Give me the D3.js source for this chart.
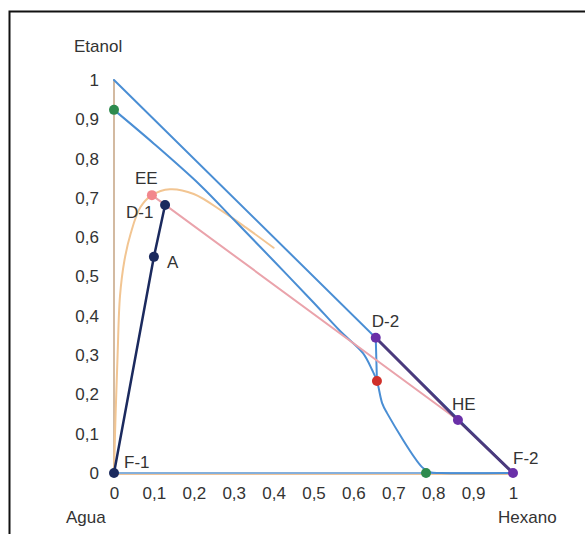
<!DOCTYPE html>
<meta charset="utf-8">
<style>
    body { margin: 0; background: #fff; }
    text { font-family: Arial, "Liberation Sans", sans-serif; fill: #333; }
    .tick text { font-size: 17px; fill: #333; }
    path.line { fill: none; stroke-linejoin: round; stroke-linecap: round; }
</style>
<body>
<script src="https://cdn.jsdelivr.net/npm/d3@7"></script>
<script>

    // ticks (same for both axes)
    var ticks = [0, 0.1, 0.2, 0.3, 0.4, 0.5, 0.6, 0.7, 0.8, 0.9, 1];

    // triangle sides
    var hypotenuse = [[0, 1], [1, 0]];
    var waterAxis = [[0, 0], [0, 1]];
    var baseAxis = [[0, 0], [1, 0]];

    // lower blue curve
    var blueCurve = [[0, 0.924], [0.1, 0.838], [0.2155, 0.733], [0.3, 0.645], [0.4, 0.54],
                     [0.5, 0.434], [0.566, 0.362], [0.624, 0.305], [0.647, 0.262], [0.659, 0.234],
                     [0.672, 0.178], [0.684, 0.153], [0.772, 0.015], [0.792, 0.002], [0.82, 0], [1, 0]];
    var blueTie = [[0.656, 0.344], [0.659, 0.234]];

    // orange curve
    var orangeCurve = [[0, 0], [0.004, 0.15], [0.009, 0.3], [0.015, 0.45], [0.026, 0.54], [0.042, 0.61],
                       [0.066, 0.676], [0.095, 0.707], [0.14, 0.722], [0.2, 0.71], [0.273, 0.665],
                       [0.33, 0.625], [0.4, 0.573]];

    var pinkLine = [[0.095, 0.707], [0.862, 0.135]];
    var navyLine = [[0, 0], [0.1, 0.55], [0.128, 0.682]];
    var purpleLine = [[0.656, 0.344], [0.862, 0.135], [1, 0]];

    // labelled points
    var pointNames = ["F-1", "A", "D-1", "EE", "D-2", "HE", "F-2", "", "", ""];
    var pointX     = [0, 0.1, 0.128, 0.095, 0.656, 0.862, 1, 0, 0.782, 0.659];
    var pointY     = [0, 0.55, 0.682, 0.707, 0.344, 0.135, 0, 0.924, 0, 0.234];
    var pointColor = ["#1b2a5e", "#1b2a5e", "#1b2a5e", "#f2868c", "#6a30a8", "#6a30a8", "#6a30a8",
                      "#2e8b4e", "#2e8b4e", "#d0302a"];
    // label offsets in px
    var labelDx = [10, 13, -39, -17, -4, -6, 0, 0, 0, 0];
    var labelDy = [-5, 11, 13, -11, -11, -10, -9, 0, 0, 0];

    var width = 585, height = 534;

    var x = d3.scaleLinear().domain([0, 1]).range([114, 513]);
    var y = d3.scaleLinear().domain([0, 1]).range([473, 80]);

    var svg = d3.select("body").append("svg")
            .attr("width", width)
            .attr("height", height);

    // frame
    svg.append("rect")
            .attr("x", 9.5).attr("y", 11.5)
            .attr("width", 700).attr("height", 700)
            .attr("fill", "none")
            .attr("stroke", "#111")
            .attr("stroke-width", 2);

    var line = d3.line().x(function(d) { return x(d[0]); }).y(function(d) { return y(d[1]); });
    var curve = d3.line().curve(d3.curveCatmullRom.alpha(0.5))
            .x(function(d) { return x(d[0]); }).y(function(d) { return y(d[1]); });

    var comma = d3.formatLocale({decimal: ",", thousands: ".", grouping: [3], currency: ["", ""]}).format("~g");

    var xAxis = svg.append("g")
            .attr("transform", "translate(0," + y(0) + ")")
            .call(d3.axisBottom(x).tickValues(ticks).tickSize(0).tickPadding(14).tickFormat(comma));
    var yAxis = svg.append("g")
            .attr("transform", "translate(" + (x(0) - 15) + ",0)")
            .call(d3.axisLeft(y).tickValues(ticks).tickSize(0).tickPadding(0).tickFormat(comma));
    xAxis.select(".domain").remove();
    yAxis.select(".domain").remove();

    svg.append("path").attr("class", "line").attr("d", line(waterAxis))
            .attr("stroke", "#c8a98a").attr("stroke-width", 1.6);
    svg.append("path").attr("class", "line").attr("d", line(baseAxis))
            .attr("transform", "translate(0,1.5)")
            .attr("stroke", "#efc49a").attr("stroke-width", 1.2);
    svg.append("path").attr("class", "line").attr("d", line(baseAxis))
            .attr("stroke", "#5b95d0").attr("stroke-width", 1.5);

    svg.append("path").attr("class", "line").attr("d", curve(orangeCurve))
            .attr("stroke", "#f2c592").attr("stroke-width", 2);
    svg.append("path").attr("class", "line").attr("d", line(hypotenuse))
            .attr("stroke", "#4a8ed4").attr("stroke-width", 2);
    svg.append("path").attr("class", "line").attr("d", curve(blueCurve))
            .attr("stroke", "#4a8ed4").attr("stroke-width", 2);
    svg.append("path").attr("class", "line").attr("d", line(blueTie))
            .attr("stroke", "#4a8ed4").attr("stroke-width", 2);
    svg.append("path").attr("class", "line").attr("d", line(pinkLine))
            .attr("stroke", "#eaa3ab").attr("stroke-width", 2);
    svg.append("path").attr("class", "line").attr("d", line(navyLine))
            .attr("stroke", "#1b2a5e").attr("stroke-width", 2.5);
    svg.append("path").attr("class", "line").attr("d", line(purpleLine))
            .attr("stroke", "#4b3a7c").attr("stroke-width", 3);

    var idx = d3.range(pointX.length);
    svg.selectAll("circle.pt").data(idx).enter()
            .append("circle")
            .attr("class", "pt")
            .attr("cx", function(i) { return x(pointX[i]); })
            .attr("cy", function(i) { return y(pointY[i]); })
            .attr("r", 5)
            .attr("fill", function(i) { return pointColor[i]; });

    svg.selectAll("text.pl").data(idx.filter(function(i) { return pointNames[i]; })).enter()
            .append("text")
            .attr("class", "pl")
            .attr("x", function(i) { return x(pointX[i]) + labelDx[i]; })
            .attr("y", function(i) { return y(pointY[i]) + labelDy[i]; })
            .attr("font-size", 17)
            .text(function(i) { return pointNames[i]; });

    // axis titles
    svg.append("text").attr("x", 74).attr("y", 52).attr("font-size", 17).text("Etanol");
    svg.append("text").attr("x", 66).attr("y", 523).attr("font-size", 17).text("Agua");
    svg.append("text").attr("x", 498).attr("y", 523).attr("font-size", 17).text("Hexano");

</script>
